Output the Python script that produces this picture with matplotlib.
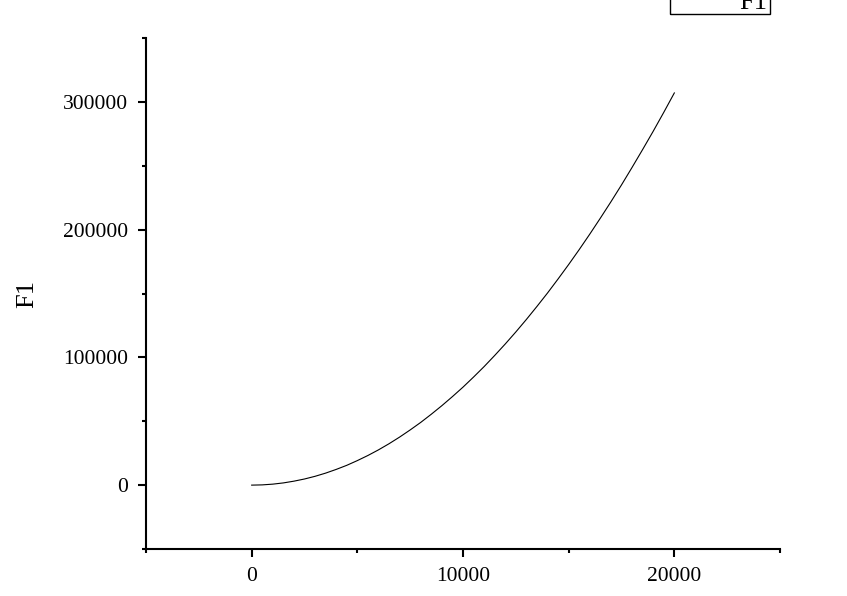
import matplotlib
matplotlib.use("Agg")
import matplotlib.pyplot as plt
from matplotlib.patches import Rectangle
from matplotlib.ticker import MultipleLocator

# values
x_vals = [0, 500, 1000, 1500, 2000, 2500, 3000, 3500, 4000, 4500, 5000,
          5500, 6000, 6500, 7000, 7500, 8000, 8500, 9000, 9500, 10000,
          10500, 11000, 11500, 12000, 12500, 13000, 13500, 14000, 14500, 15000,
          15500, 16000, 16500, 17000, 17500, 18000, 18500, 19000, 19500, 20000]
f1_vals = [0, 190, 770, 1730, 3100, 4800, 6900, 9400, 12300, 15500, 19200,
           23200, 27600, 32400, 37600, 43200, 49100, 55500, 62200, 69300, 76700,
           84600, 92800, 101500, 110500, 119900, 129700, 139900, 150400, 161400, 172700,
           184400, 196500, 209000, 221800, 235000, 248700, 262700, 277000, 291800, 307000]
series_name = "F1"

plt.rcParams['font.family'] = ['Liberation Serif', 'DejaVu Serif']

fig = plt.figure(figsize=(8.47, 5.96), dpi=100)
ax = fig.add_axes([146/847, 47/596, 634/847, 511/596])

ax.plot(x_vals, f1_vals, color="black", lw=0.8)

ax.set_xlim(-5000, 25000)
ax.set_ylim(-50000, 350000)
ax.xaxis.set_major_locator(MultipleLocator(10000))
ax.xaxis.set_minor_locator(MultipleLocator(5000))
ax.yaxis.set_major_locator(MultipleLocator(100000))
ax.yaxis.set_minor_locator(MultipleLocator(50000))

for s in ["top", "right"]:
    ax.spines[s].set_visible(False)
for s in ["left", "bottom"]:
    ax.spines[s].set_linewidth(1.5)

ax.tick_params(which="major", direction="out", length=6, width=1.5, pad=7, labelsize=15.5)
ax.tick_params(which="minor", direction="out", length=3, width=1.5)
ax.set_ylabel(series_name, fontsize=19, labelpad=18)

# legend box, mostly cut off at the top edge
fig.patches.append(Rectangle((670/847, 582/596), 100/847, 0.05, transform=fig.transFigure,
                             fill=False, edgecolor="black", lw=1, clip_on=False))
fig.text(767/847, 587/596, series_name, ha="right", va="baseline", fontsize=19)

fig.savefig("out.png", dpi=100)
